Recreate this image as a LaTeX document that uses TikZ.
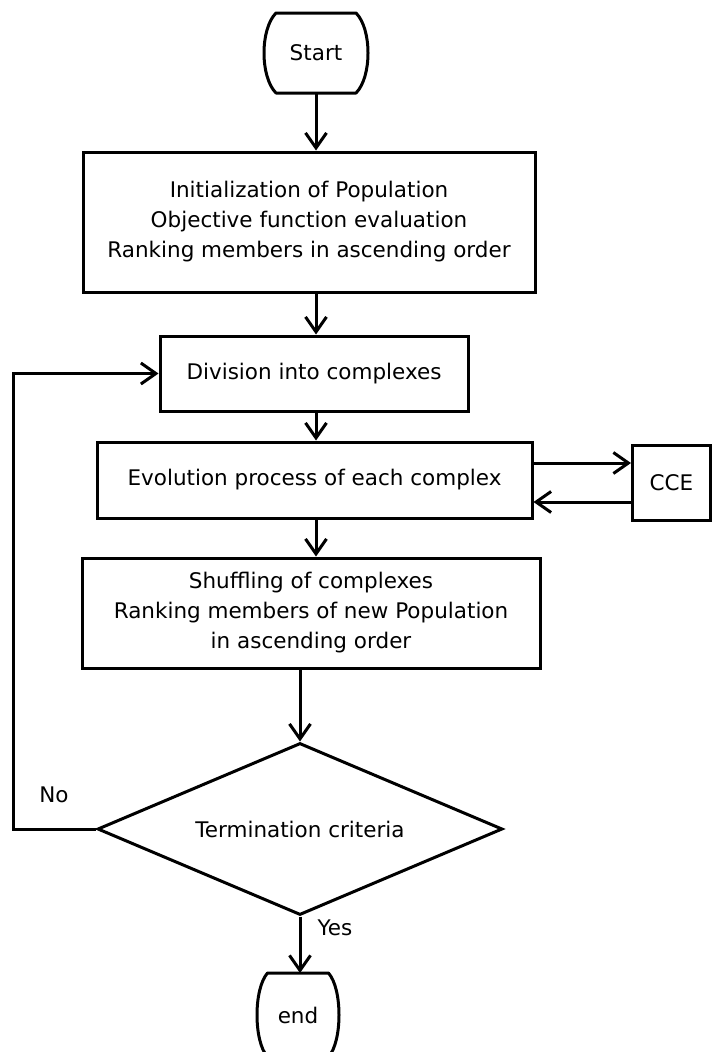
\documentclass[tikz,border=0pt]{standalone}
\usepackage{fontspec}
\setmainfont{DejaVu Sans}
\usetikzlibrary{arrows.meta,calc,shapes.geometric}
\begin{document}
\begin{tikzpicture}[x=1pt,y=-1pt,
  every node/.style={font=\fontsize{21.5}{30}\selectfont},
  proc/.style={draw, line width=3pt, rectangle, align=center, inner sep=0pt},
  term/.style={inner sep=0pt, outer sep=0pt},
  decision/.style={draw, line width=3pt, diamond, aspect=2.35, inner sep=0pt},
  barrel/.style={line width=3pt, line join=round},
  link/.style={line width=3pt, -{Straight Barb[length=15pt,width=21pt]}},
  label/.style={inner sep=0pt}
]
\useasboundingbox (0,0) rectangle (713,1052);

% terminators
\node[term, minimum width=80, minimum height=80] (start) at (316,53) {Start};
\node[term, minimum width=61, minimum height=84] (stop) at (298,1015) {end};

\draw[barrel] (start.north west) -- (start.north east)
  .. controls ($(start.north east)+(16,16)$) and ($(start.south east)+(16,-16)$) .. (start.south east)
  -- (start.south west)
  .. controls ($(start.south west)+(-16,-16)$) and ($(start.north west)+(-16,16)$) .. cycle;
\draw[barrel] (stop.north west) -- (stop.north east)
  .. controls ($(stop.north east)+(14,16)$) and ($(stop.south east)+(14,-16)$) .. (stop.south east)
  -- (stop.south west)
  .. controls ($(stop.south west)+(-14,-16)$) and ($(stop.north west)+(-14,16)$) .. cycle;

% process boxes
\node[proc, minimum width=452, minimum height=140] (init) at (309,222)
  {Initialization of Population\\Objective function evaluation\\Ranking members in ascending order};
\node[proc, minimum width=308, minimum height=75] (div) at (314,373.5) {Division into complexes};
\node[proc, minimum width=435, minimum height=76] (evo) at (314.5,480) {Evolution process of each complex};
\node[proc, minimum width=78, minimum height=75] (cce) at (671.5,482.5) {CCE};
\node[proc, minimum width=458, minimum height=110] (shuf) at (311,613)
  {Shuffling of complexes\\Ranking members of new Population\\in ascending order};

% decision
\node[decision, minimum width=405, minimum height=172] (test) at (300,829) {Termination criteria};

% branch labels
\node[label] (no) at (54,795) {No};
\node[label] (yes) at (335,928) {Yes};

% connectors
\coordinate (col) at (316,0);
\coordinate (loopx) at (13,0);
\draw[link] (start.south) -- (start.south |- init.north);
\draw[link] (init.south -| col) -- (div.north -| col);
\draw[link] (div.south -| col) -- (evo.north -| col);
\draw[link] (evo.south -| col) -- (shuf.north -| col);
\draw[link] (shuf.south -| test.north) -- (test.north);
\draw[link] (test.south) -- (test.south |- stop.north);
\draw[link] (test.west) -- (test.west -| loopx) |- (div.west);

\coordinate (e1) at ([yshift=17pt]evo.east);
\coordinate (e2) at ([yshift=-22pt]evo.east);
\draw[link] (e1) -- (e1 -| cce.west);
\draw[link] (e2 -| cce.west) -- (e2);
\end{tikzpicture}
\end{document}
